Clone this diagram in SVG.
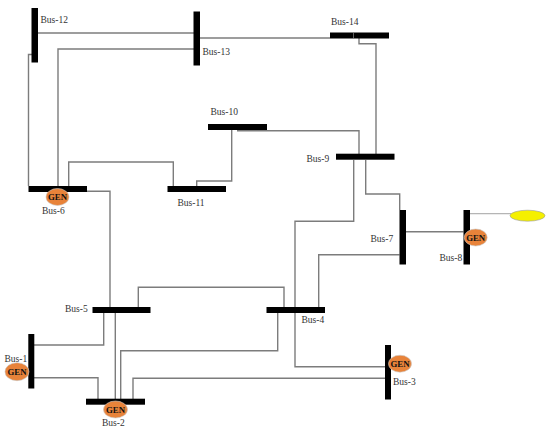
<svg xmlns="http://www.w3.org/2000/svg" width="550" height="434" viewBox="0 0 550 434">
<style>
.bus{fill:#000}
.ln{fill:none;stroke:#7c7c7c;stroke-width:1.4}
.gen{fill:#e8833a;stroke:#c9c9c9;stroke-width:.6}
.t{font-family:"Liberation Serif",serif;font-size:9.5px;fill:#333}
.g{font-family:"Liberation Serif",serif;font-size:8.800px;font-weight:bold;fill:#111;text-anchor:middle}
</style>
<rect width="550" height="434" fill="#fff"/>
<g id="connectors">
<path class="ln" d="M38 33H194"/>
<path class="ln" d="M200 38H330"/>
<path class="ln" d="M194 49H58V186"/>
<path class="ln" d="M32 54.500H28.500V186"/>
<path class="ln" d="M68.700 186V162H173.300V186"/>
<path class="ln" d="M231.700 130V181H196.700V186"/>
<path class="ln" d="M237 130.700H359V154"/>
<path class="ln" d="M359 38V43.700H376V154"/>
<path class="ln" d="M365.700 160V194H399.700V210"/>
<path class="ln" d="M353.700 160V221.300H295V366.700H385"/>
<path class="ln" d="M406 231.700H463.500"/>
<path class="ln" d="M399.500 254.700H318.700V307"/>
<path class="ln" d="M138.300 307V287.300H284V307"/>
<path class="ln" d="M86.700 191.300H110V307"/>
<path class="ln" d="M103.700 313V345H34"/>
<path class="ln" d="M115.300 313V399"/>
<path class="ln" d="M34 377.700H98V399"/>
<path class="ln" d="M120.700 399V350.700H277.700V313"/>
<path class="ln" d="M133 399V378.300H385"/>
<path d="M470 213.700H511" fill="none" stroke="#b5b5b5" stroke-width="1.200"/>
</g>
<g id="bus-12"><rect class="bus" x="31.500" y="8" width="6.500" height="54.500"/><text class="t" x="40.500" y="23">Bus-12</text></g>
<g id="bus-13"><rect class="bus" x="193.500" y="11.500" width="6.500" height="54"/><text class="t" x="202.500" y="55">Bus-13</text></g>
<g id="bus-14"><rect class="bus" x="330" y="32.500" width="59" height="6"/><path d="M353.500 32.500V38.500" stroke="#888" stroke-width=".7"/><text class="t" x="331" y="25">Bus-14</text></g>
<g id="bus-10"><rect class="bus" x="208" y="124" width="59" height="6"/><text class="t" x="210.500" y="115">Bus-10</text></g>
<g id="bus-11"><rect class="bus" x="167.500" y="186" width="58.500" height="6"/><text class="t" x="177.500" y="206">Bus-11</text></g>
<g id="bus-6"><rect class="bus" x="28.500" y="186" width="58.500" height="6"/><ellipse class="gen" cx="57.500" cy="197" rx="11.500" ry="8.500"/><text class="g" x="57.500" y="200">GEN</text><text class="t" x="42" y="214">Bus-6</text></g>
<g id="bus-9"><rect class="bus" x="336" y="153.700" width="58.500" height="6"/><text class="t" x="306.500" y="161.500">Bus-9</text></g>
<g id="bus-7"><rect class="bus" x="399.500" y="210" width="6.500" height="54.500"/><text class="t" x="370.500" y="242">Bus-7</text></g>
<g id="bus-8"><rect class="bus" x="463.500" y="210" width="6.500" height="54.500"/><ellipse class="gen" cx="475.700" cy="237.500" rx="11.500" ry="8.500"/><text class="g" x="475.700" y="240.500">GEN</text><text class="t" x="439.500" y="261">Bus-8</text></g>
<g id="bus-5"><rect class="bus" x="92.500" y="307" width="58" height="6"/><text class="t" x="65" y="311.500">Bus-5</text></g>
<g id="bus-4"><rect class="bus" x="266.500" y="307" width="58.500" height="6"/><text class="t" x="301.500" y="323">Bus-4</text></g>
<g id="bus-1"><rect class="bus" x="28.300" y="334" width="6" height="54.500"/><ellipse class="gen" cx="17" cy="371.700" rx="12" ry="9"/><text class="g" x="17" y="374.700">GEN</text><text class="t" x="4.500" y="362">Bus-1</text></g>
<g id="bus-2"><rect class="bus" x="86" y="398.700" width="59" height="6"/><ellipse class="gen" cx="115.500" cy="409.500" rx="12" ry="8.500"/><text class="g" x="115.500" y="412.500">GEN</text><text class="t" x="102" y="426">Bus-2</text></g>
<g id="bus-3"><rect class="bus" x="385" y="345" width="6" height="54.500"/><ellipse class="gen" cx="400" cy="363.700" rx="11.500" ry="8.500"/><text class="g" x="400" y="366.700">GEN</text><text class="t" x="393" y="384.500">Bus-3</text></g>
<g id="load"><ellipse cx="527.500" cy="215.700" rx="17.500" ry="5.500" fill="#f5f000" stroke="#999" stroke-width=".6"/></g>
</svg>
